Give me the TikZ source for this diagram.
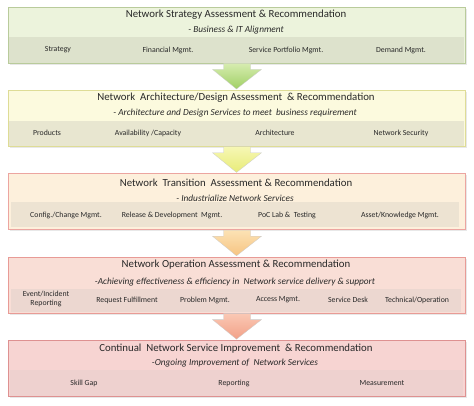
\documentclass[tikz,border=0pt]{standalone}
\usepackage{fontspec}
\setmainfont{Carlito}
\usetikzlibrary{shadows}

\definecolor{txtgray}{RGB}{40,40,40}
\definecolor{fillA}{RGB}{236,243,220}
\definecolor{bandA}{RGB}{221,226,204}
\definecolor{lineA}{RGB}{185,203,155}
\definecolor{fillB}{RGB}{252,250,222}
\definecolor{bandB}{RGB}{232,230,208}
\definecolor{lineB}{RGB}{222,220,150}
\definecolor{fillC}{RGB}{253,240,220}
\definecolor{bandC}{RGB}{237,227,210}
\definecolor{lineC}{RGB}{236,165,160}
\definecolor{fillD}{RGB}{249,222,214}
\definecolor{bandD}{RGB}{236,215,208}
\definecolor{lineD}{RGB}{232,155,150}
\definecolor{fillE}{RGB}{247,212,210}
\definecolor{bandE}{RGB}{238,209,207}
\definecolor{lineE}{RGB}{222,145,145}
\definecolor{arrAtop}{RGB}{214,236,176}
\definecolor{arrAbot}{RGB}{160,208,100}
\definecolor{arrBtop}{RGB}{246,247,180}
\definecolor{arrBbot}{RGB}{232,236,120}
\definecolor{arrCtop}{RGB}{252,226,180}
\definecolor{arrCbot}{RGB}{246,196,130}
\definecolor{arrDtop}{RGB}{250,200,180}
\definecolor{arrDbot}{RGB}{242,160,135}

\begin{document}
\begin{tikzpicture}[x=1pt,y=-1pt]
\tikzstyle{box}=[draw, line width=0.8pt, minimum width=457pt, minimum height=56pt, inner sep=0pt, drop shadow={opacity=0.18, shadow xshift=1.5pt, shadow yshift=-1.5pt}]
\tikzstyle{ttl}=[font=\fontsize{10.8}{13}\selectfont, text=txtgray]
\tikzstyle{sub}=[font=\fontsize{9.3}{11}\selectfont\itshape, text=txtgray]
\tikzstyle{itm}=[font=\fontsize{7.8}{8.6}\selectfont, text=txtgray, align=center]
\tikzstyle{arr}=[draw=white!60!gray, line width=0.3pt]
\useasboundingbox (0,0) rectangle (474,405);

% boxes
\node[box, draw=lineA, fill=fillA] (B1) at (236.5,35) {};
\fill[bandA] ([xshift=1pt,yshift=26pt]B1.south west) rectangle ([xshift=-1pt,yshift=0.5pt]B1.south east);
\node[box, draw=lineB, fill=fillB] (B2) at (236.5,118.4) {};
\fill[bandB] ([xshift=1pt,yshift=26pt]B2.south west) rectangle ([xshift=-1pt,yshift=0.5pt]B2.south east);
\node[box, draw=lineC, fill=fillC] (B3) at (236.5,201.8) {};
\fill[bandC] ([xshift=3pt,yshift=28pt]B3.south west) rectangle ([xshift=-6pt,yshift=3pt]B3.south east);
\node[box, draw=lineD, fill=fillD] (B4) at (236.5,285.2) {};
\fill[bandD] ([xshift=3pt,yshift=25pt]B4.south west) rectangle ([xshift=-4pt,yshift=1.5pt]B4.south east);
\node[box, draw=lineE, fill=fillE] (B5) at (236.5,368.6) {};
\fill[bandE] ([xshift=2pt,yshift=27pt]B5.south west) rectangle ([xshift=-2pt,yshift=1pt]B5.south east);

% arrows
\path[arr, top color=arrAtop, bottom color=arrAbot] ([xshift=-13pt]B1.south) -- ([xshift=-13pt,yshift=-6pt]B1.south) -- ([xshift=-24pt,yshift=-6pt]B1.south) -- ([yshift=1pt]B2.north) -- ([xshift=25pt,yshift=-6pt]B1.south) -- ([xshift=14pt,yshift=-6pt]B1.south) -- ([xshift=14pt]B1.south) -- cycle;
\path[arr, top color=arrBtop, bottom color=arrBbot] ([xshift=-13pt]B2.south) -- ([xshift=-13pt,yshift=-6pt]B2.south) -- ([xshift=-24pt,yshift=-6pt]B2.south) -- ([yshift=1pt]B3.north) -- ([xshift=25pt,yshift=-6pt]B2.south) -- ([xshift=14pt,yshift=-6pt]B2.south) -- ([xshift=14pt]B2.south) -- cycle;
\path[arr, top color=arrCtop, bottom color=arrCbot] ([xshift=-13pt]B3.south) -- ([xshift=-13pt,yshift=-6pt]B3.south) -- ([xshift=-24pt,yshift=-6pt]B3.south) -- ([yshift=1pt]B4.north) -- ([xshift=25pt,yshift=-6pt]B3.south) -- ([xshift=14pt,yshift=-6pt]B3.south) -- ([xshift=14pt]B3.south) -- cycle;
\path[arr, top color=arrDtop, bottom color=arrDbot] ([xshift=-13pt]B4.south) -- ([xshift=-13pt,yshift=-6pt]B4.south) -- ([xshift=-24pt,yshift=-6pt]B4.south) -- ([yshift=1pt]B5.north) -- ([xshift=25pt,yshift=-6pt]B4.south) -- ([xshift=14pt,yshift=-6pt]B4.south) -- ([xshift=14pt]B4.south) -- cycle;

% strategy
\node[ttl] (T1) at (236,15) {Network Strategy Assessment \& Recommendation};
\node[sub] (S1) at (236,30) {- Business \& IT Alignment};
\node[itm] (I11) at (58,50) {Strategy};
\node[itm] (I12) at (168,50) {Financial Mgmt.};
\node[itm] (I13) at (286,50) {Service Portfolio Mgmt.};
\node[itm] (I14) at (401,50) {Demand Mgmt.};

% architecture
\node[ttl] (T2) at (236,98) {Network~ Architecture/Design Assessment~ \& Recommendation};
\node[sub] (S2) at (235,113) {- Architecture and Design Services to meet~ business requirement};
\node[itm] (I21) at (47,133) {Products};
\node[itm] (I22) at (148,133) {Availability /Capacity};
\node[itm] (I23) at (275,133) {Architecture};
\node[itm] (I24) at (401,133) {Network Security};

% transition
\node[ttl] (T3) at (236,183) {Network~ Transition~ Assessment \& Recommendation};
\node[sub] (S3) at (235,198) {- Industrialize Network Services};
\node[itm] (I31) at (66,215) {Config./Change Mgmt.};
\node[itm] (I32) at (172,215) {Release \& Development~ Mgmt.};
\node[itm] (I33) at (287,215) {PoC Lab \&~ Testing};
\node[itm] (I34) at (400,215) {Asset/Knowledge Mgmt.};

% operation
\node[ttl] (T4) at (236,265) {Network Operation Assessment \& Recommendation};
\node[sub] (S4) at (235,282) {-Achieving effectiveness \& efficiency in~ Network service delivery \& support};
\node[itm] (I41) at (46,299) {Event/Incident\\Reporting};
\node[itm] (I42) at (127,300) {Request Fulfillment};
\node[itm] (I43) at (205,300) {Problem Mgmt.};
\node[itm] (I44) at (278,300) {Access Mgmt.};
\node[itm] (I45) at (348,300) {Service Desk};
\node[itm] (I46) at (417,300) {Technical/Operation};

% improvement
\node[ttl] (T5) at (236,349) {Continual~ Network Service Improvement~ \& Recommendation};
\node[sub] (S5) at (235,363) {-Ongoing Improvement of~ Network Services};
\node[itm] (I51) at (84,383) {Skill Gap};
\node[itm] (I52) at (234,383) {Reporting};
\node[itm] (I53) at (382,383) {Measurement};
\end{tikzpicture}
\end{document}
